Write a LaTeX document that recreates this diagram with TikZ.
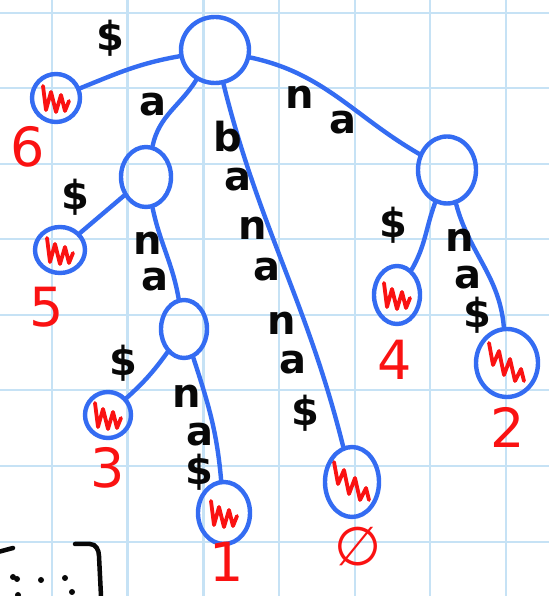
\documentclass[tikz,border=0pt]{standalone}
\usepackage{fontspec}
\setmainfont{DejaVu Sans}
\usetikzlibrary{shapes.geometric}
\definecolor{gridc}{RGB}{198,226,245}
\definecolor{treeblue}{RGB}{52,108,242}
\definecolor{ink}{RGB}{8,8,8}
\definecolor{markred}{RGB}{250,18,18}
\tikzset{
  gridline/.style={draw=gridc, line width=2.4pt},
  tnode/.style={draw=treeblue, line width=4.4pt, ellipse, inner sep=0pt},
  leafnode/.style={tnode, path picture={
      \draw[markred, line width=3.8pt, line join=round, line cap=round]
        ([shift={(-13,12)}]path picture bounding box.center) -- ++(3,-24) -- ++(5,18) -- ++(5,-20) -- ++(5,17) -- ++(4,-16) -- ++(4,10);}},
  bigleaf/.style={tnode, path picture={
      \draw[markred, line width=3.8pt, line join=round, line cap=round]
        ([shift={(-18,20)}]path picture bounding box.center) -- ++(4,-22) -- ++(6,14) -- ++(5,-24) -- ++(6,16) -- ++(5,-22) -- ++(6,12) -- ++(3,-12);}},
  edge/.style={draw=treeblue, line width=4.4pt, line cap=round},
  lab/.style={font=\bfseries\fontsize{40}{40}\selectfont, text=ink, inner sep=0pt},
  num/.style={font=\fontsize{54}{54}\selectfont, text=markred, inner sep=0pt},
  blk/.style={draw=ink, line width=4.5pt, line cap=round}
}
\begin{document}
\begin{tikzpicture}[x=1pt,y=1pt]
\useasboundingbox (0,0) rectangle (549,596);
\fill[white] (0,0) rectangle (549,596);
% grid paper
\foreach \gx in {52,127.5,203.5,279,355,430,506}
  \draw[gridline] (\gx,0) -- (\gx,596);
\foreach \gy in {13,88,164,239,315,390,466,542}
  \draw[gridline] (0,596-\gy) -- (549,596-\gy);
% nodes
\node[tnode, minimum width=68pt, minimum height=66pt] (root) at (215,546) {};
\node[leafnode, minimum width=48pt, minimum height=48pt] (l6) at (56,498) {};
\node[tnode, minimum width=50pt, minimum height=60pt] (an) at (146,419) {};
\node[leafnode, minimum width=50pt, minimum height=46pt] (l5) at (60,346) {};
\node[tnode, minimum width=46pt, minimum height=58pt] (ana) at (184,267) {};
\node[leafnode, minimum width=46pt, minimum height=46pt] (l3) at (108,181) {};
\node[leafnode, minimum width=52pt, minimum height=62pt] (l1) at (224,83) {};
\node[bigleaf, minimum width=54pt, minimum height=70pt] (l0) at (352,114) {};
\node[tnode, minimum width=58pt, minimum height=67pt] (na) at (447,426) {};
\node[leafnode, minimum width=46pt, minimum height=58pt] (l4) at (397,301) {};
\node[bigleaf, minimum width=62pt, minimum height=68pt] (l2) at (507,233) {};
% edges
\draw[edge] (root) to[out=190,in=22] (l6);
\draw[edge] (root) to[out=238,in=78] (an);
\draw[edge] (root) to[out=-76,in=104] (l0);
\draw[edge] (root) to[out=-12,in=150] (na);
\draw[edge] (an) -- (l5);
\draw[edge] (an) to[out=-78,in=100] (ana);
\draw[edge] (ana) to[bend left=6] (l3);
\draw[edge] (ana) to[out=-72,in=95] (l1);
\draw[edge] (na) to[out=-110,in=60] (l4);
\draw[edge] (na) to[out=-75,in=95] (l2);
% edge labels
\node[lab] (e6) at (110,558) {\$};
\node[lab] (ea) at (153,491) {a};
\node[lab] (b1) at (228,459) {b};
\node[lab] (b2) at (238,416) {a};
\node[lab] (b3) at (253,368) {n};
\node[lab] (b4) at (267,326) {a};
\node[lab] (b5) at (282,273) {n};
\node[lab] (b6) at (293,233) {a};
\node[lab] (b7) at (305,183) {\$};
\node[lab] (r1) at (300,499) {n};
\node[lab] (r2) at (343,473) {a};
\node[lab] (e5) at (75,399) {\$};
\node[lab] (m1) at (148,353) {n};
\node[lab] (m2) at (155,316) {a};
\node[lab] (e3) at (123,233) {\$};
\node[lab] (p1) at (187,200) {n};
\node[lab] (p2) at (200,161) {a};
\node[lab] (p3) at (199,124) {\$};
\node[lab] (e4) at (393,371) {\$};
\node[lab] (q1) at (460,356) {n};
\node[lab] (q2) at (468,318) {a};
\node[lab] (q3) at (477,281) {\$};
% leaf numbers
\node[num] (n6) at (28,449) {6};
\node[num] (n5) at (47,289) {5};
\node[num] (n3) at (108,128) {3};
\node[num] (n1) at (227,34) {1};
\node[num] (n4) at (395,236) {4};
\node[num] (n2) at (508,169) {2};
\node[num] (n0) at (358,49) {∅};
% partial matrix bracket, bottom left
\draw[blk] (-2,44) -- (13,48);
\draw[blk] (75,52) -- (90,52) to[out=0,in=90] (99,40) -- (101,0);
\foreach \dx/\dy in {13/19,17/17,41/16,65/18,18/1,72/4}
  \fill[ink] (\dx,\dy) circle (3pt);
\end{tikzpicture}
\end{document}
